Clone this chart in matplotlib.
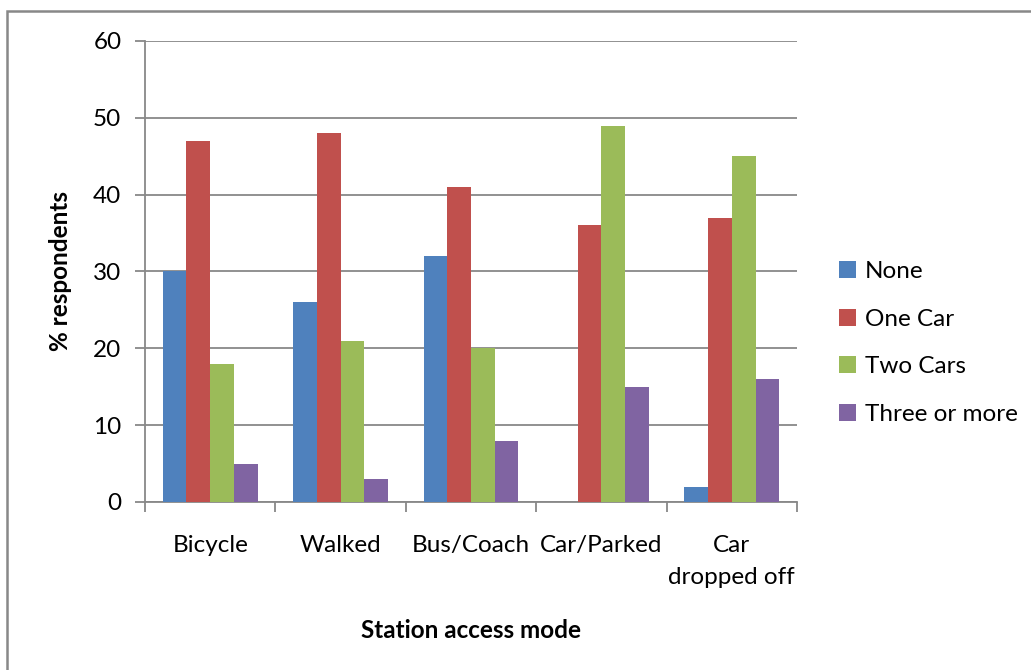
import numpy as np
import matplotlib.pyplot as plt
from matplotlib.patches import Rectangle

# station access mode vs. household car ownership
modes = ['Bicycle', 'Walked', 'Bus/Coach', 'Car/Parked', 'Car\ndropped off']
series = ['None', 'One Car', 'Two Cars', 'Three or more']
none = [30, 26, 32, 0, 2]
one_car = [47, 48, 41, 36, 37]
two_cars = [18, 21, 20, 49, 45]
three_plus = [5, 3, 8, 15, 16]
colors = ['#4F81BD', '#C0504D', '#9BBB59', '#8064A2']

plt.rcParams['font.family'] = ['Lato', 'DejaVu Sans']
grey = '#888888'
fs = 17.5

fig = plt.figure(figsize=(10.31, 6.70), dpi=100)
ax = fig.add_axes([145/1031, 1 - 502/670, (797 - 145)/1031, (502 - 41)/670])

# outer chart frame
fig.patches.append(Rectangle((7/1031, -0.1), 1.2, 1 - 11/670 + 0.1,
                             transform=fig.transFigure, fill=False,
                             edgecolor=grey, linewidth=1.8))

x = np.arange(len(modes))
w = 1 / (4 + 1.5)
for i, vals in enumerate([none, one_car, two_cars, three_plus]):
    ax.bar(x + (i - 1.5) * w, vals, width=w, color=colors[i],
           label=series[i], zorder=3)

ax.set_xlim(-0.5, len(modes) - 0.5)
ax.set_ylim(0, 60)
ax.set_yticks(range(0, 61, 10))
ax.yaxis.grid(True, color=grey, linewidth=1.3, zorder=0)

ax.set_xticks(np.arange(-0.5, len(modes), 1))
ax.set_xticklabels([])
ax.set_xticks(x, minor=True)
ax.set_xticklabels(modes, minor=True, fontsize=fs, linespacing=1.6)
ax.tick_params(axis='x', which='minor', length=0, pad=24)
ax.tick_params(axis='x', which='major', length=7, width=1.3, color=grey)
ax.tick_params(axis='y', length=7, width=1.3, color=grey, labelsize=fs, pad=10)

for s in ['top', 'right']:
    ax.spines[s].set_visible(False)
for s in ['left', 'bottom']:
    ax.spines[s].set_color(grey)
    ax.spines[s].set_linewidth(1.3)

ax.set_ylabel('% respondents', fontsize=fs, fontweight='bold', labelpad=15)
ax.set_xlabel('Station access mode', fontsize=fs, fontweight='bold', labelpad=23)

ax.legend(loc='center left', bbox_to_anchor=(1.065, 0.345), frameon=False,
          fontsize=fs, handlelength=0.7, handleheight=0.7,
          handletextpad=0.35, labelspacing=1.1, borderpad=0, borderaxespad=0)

fig.savefig('out.png', dpi=100)
